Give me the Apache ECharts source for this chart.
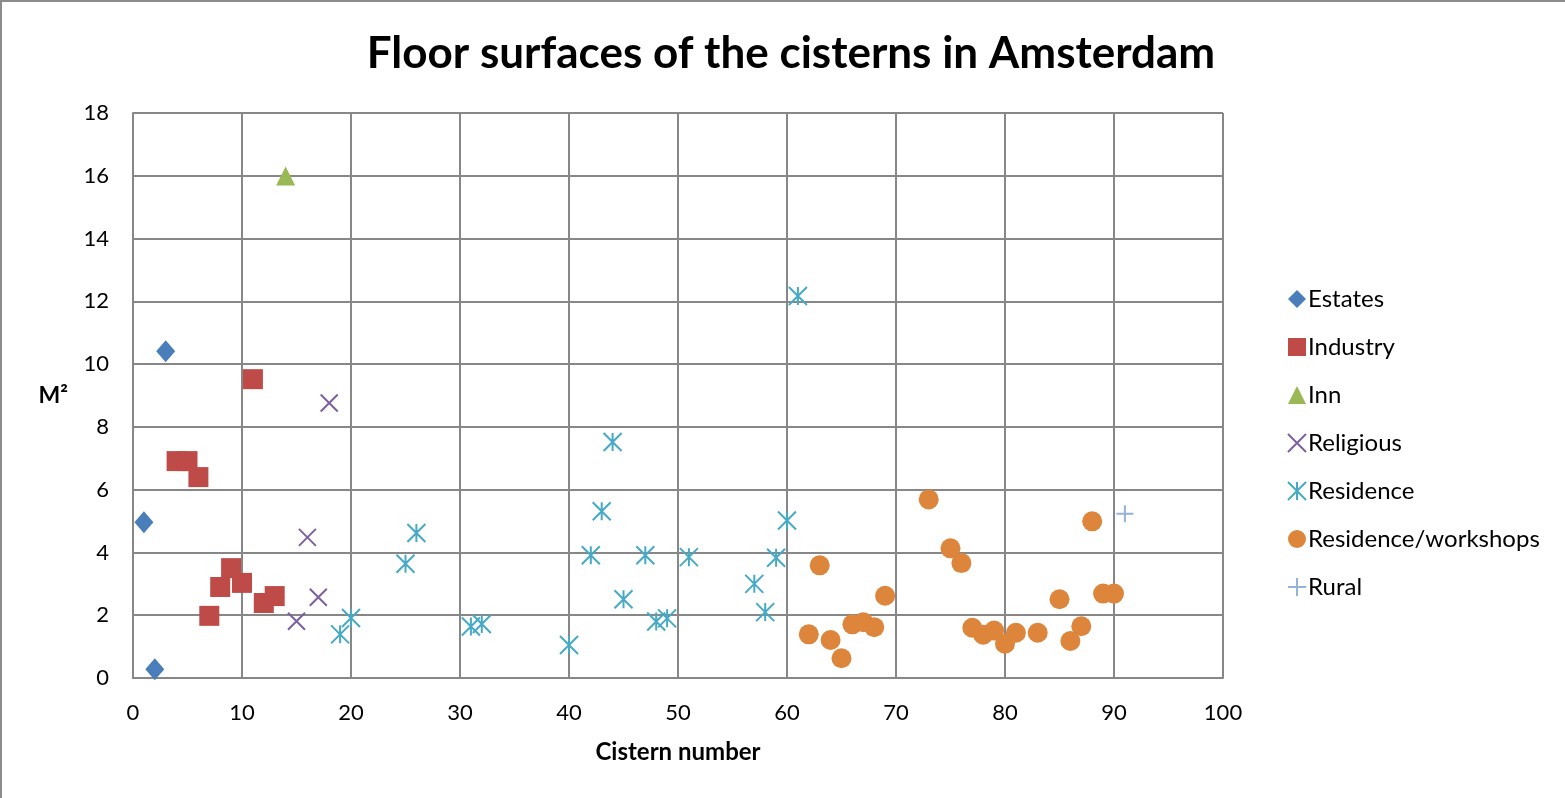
<!DOCTYPE html>
<html><head><meta charset="utf-8">
<script src="https://cdn.jsdelivr.net/npm/echarts@6/dist/echarts.min.js"></script>
<style>html,body{margin:0;padding:0;background:#fff}#c{width:1565px;height:798px}</style>
</head><body><div id="c"></div>
<script>
const xTicks = [0,10,20,30,40,50,60,70,80,90,100];
const yTicks = [0,2,4,6,8,10,12,14,16,18];
const estates = [[1,4.96],[2,0.28],[3,10.41]];
const industry = [[4,6.91],[5,6.91],[6,6.4],[7,1.98],[8,2.9],[9,3.5],[10,3.03],[11,9.52],[12,2.39],[13,2.61]];
const inn = [[14,15.99]];
const religious = [[15,1.81],[16,4.48],[17,2.57],[18,8.76]];
const residence = [[19,1.39],[20,1.91],[25,3.64],[26,4.62],[31,1.64],[32,1.72],[40,1.05],[42,3.91],[43,5.31],[44,7.52],[45,2.51],[47,3.91],[48,1.8],[49,1.9],[51,3.85],[57,3.0],[58,2.1],[59,3.83],[60,5.02],[61,12.17]];
const workshops = [[62,1.39],[63,3.59],[64,1.21],[65,0.63],[66,1.71],[67,1.78],[68,1.62],[69,2.62],[73,5.69],[75,4.13],[76,3.66],[77,1.6],[78,1.38],[79,1.51],[80,1.09],[81,1.44],[83,1.44],[85,2.51],[86,1.18],[87,1.65],[88,4.99],[89,2.69],[90,2.69]];
const rural = [[91,5.23]];

const font = 'Lato, "Open Sans", sans-serif';
const X = 'path://M0 0L10 10M10 0L0 10';
const AST = 'path://M0 0L10 10M10 0L0 10M5 0L5 10';
const PLUS = 'path://M5 0L5 10M0 5L10 5';

function filled(name, data, symbol, color, size){
  return {name, type:'scatter', data, symbol, symbolSize:size, itemStyle:{color, opacity:1}, emphasis:{disabled:true}};
}
function stroked(name, data, symbol, color, size){
  return {name, type:'scatter', data, symbol, symbolSize:size, itemStyle:{color:'rgba(0,0,0,0)', borderColor:color, borderWidth:2, opacity:1}, emphasis:{disabled:true}};
}
const chart = echarts.init(document.getElementById('c'), null, {renderer:'canvas'});
chart.setOption({
  animation:false,
  backgroundColor:'#fff',
  title:{text:'Floor surfaces of the cisterns in Amsterdam', left:786, top:27, textAlign:'center',
    textStyle:{fontFamily:font, fontWeight:'bold', fontSize:44, color:'#000'}},
  graphic:[{type:'rect', shape:{x:1,y:1,width:1600,height:900}, style:{fill:'none', stroke:'#8c8c8c', lineWidth:2}, silent:true}],
  grid:{left:133, top:113, right:342, bottom:120, containLabel:false},
  legend:{orient:'vertical', left:1282, top:282, itemGap:24, itemWidth:18, itemHeight:18,
    textStyle:{fontFamily:font, fontSize:24, lineHeight:24, color:'#000', padding:[0,0,0,-3]},
    data:['Estates','Industry','Inn','Religious','Residence','Residence/workshops','Rural']},
  xAxis:{type:'value', min:0, max:100, interval:10,
    name:'Cistern number', nameLocation:'middle', nameGap:62,
    nameTextStyle:{fontFamily:font, fontWeight:'bold', fontSize:24, color:'#000'},
    axisLine:{show:true, onZero:false, lineStyle:{color:'#878787', width:2}},
    axisTick:{show:false},
    axisLabel:{fontFamily:font, fontSize:22, color:'#000', margin:24, formatter:v=>xTicks.includes(v)?String(v):''},
    splitLine:{show:true, lineStyle:{color:'#878787', width:2}}},
  yAxis:{type:'value', min:0, max:18, interval:2,
    name:'M²', nameLocation:'middle', nameGap:65, nameRotate:0,
    nameTextStyle:{fontFamily:font, fontWeight:'bold', fontSize:23, color:'#000'},
    axisLine:{show:true, lineStyle:{color:'#878787', width:2}},
    axisTick:{show:false},
    axisLabel:{fontFamily:font, fontSize:22, color:'#000', margin:24, formatter:v=>yTicks.includes(v)?String(v):''},
    splitLine:{show:true, lineStyle:{color:'#878787', width:2}}},
  series:[
    filled('Estates', estates, 'diamond', '#4A7EBB', [19,22]),
    filled('Industry', industry, 'rect', '#BE4B48', 20),
    filled('Inn', inn, 'triangle', '#98B954', 19),
    stroked('Religious', religious, X, '#7D60A0', 17),
    stroked('Residence', residence, AST, '#46AAC5', 18),
    filled('Residence/workshops', workshops, 'circle', '#DD853A', 20),
    stroked('Rural', rural, PLUS, '#95B3D7', 17)
  ]
});
</script></body></html>
